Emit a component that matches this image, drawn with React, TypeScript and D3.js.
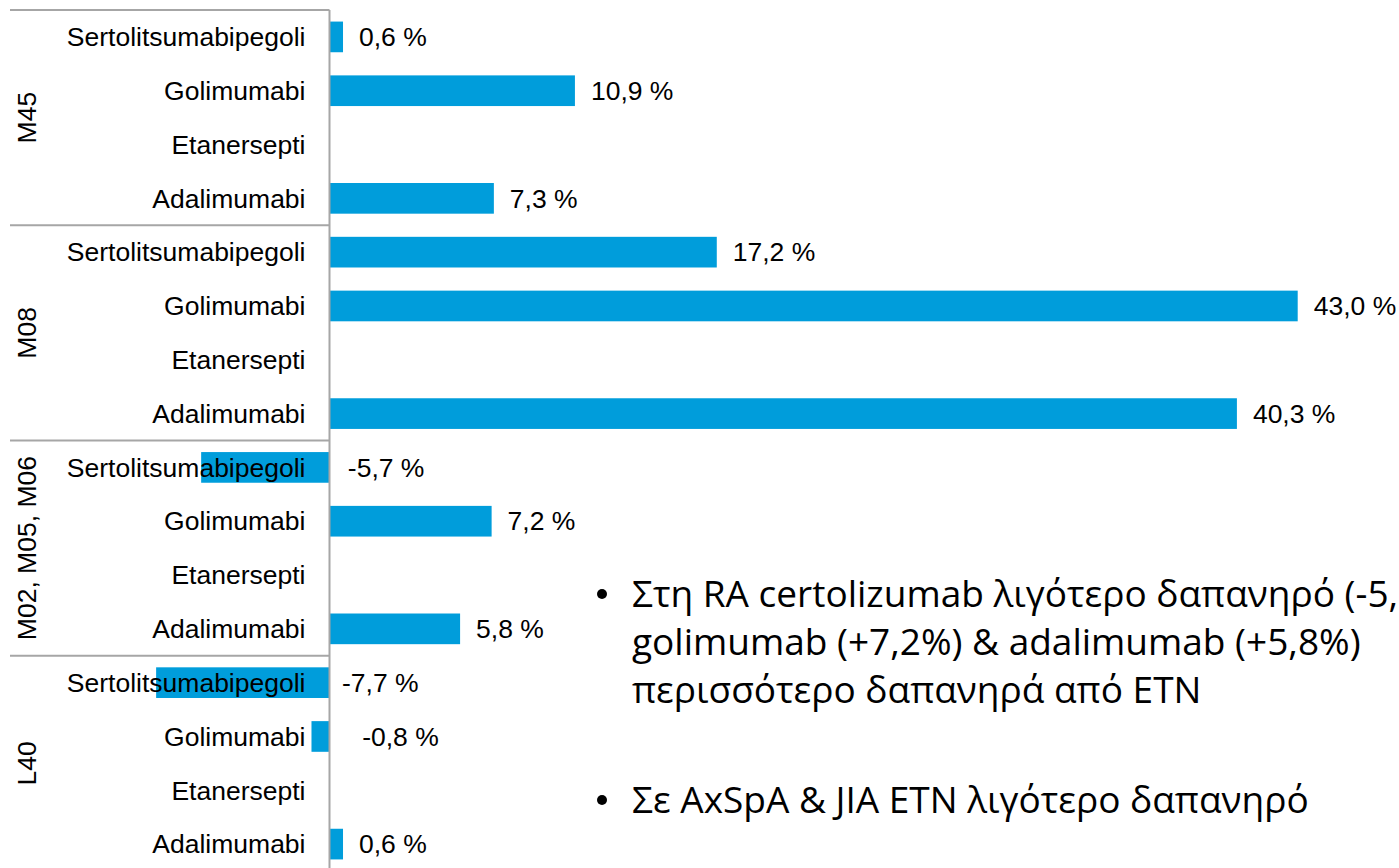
import { useEffect, useRef } from "react";
import * as d3 from "d3";

const groups = ["M45", "M08", "M02, M05, M06", "L40"];
const drugs = ["Sertolitsumabipegoli", "Golimumabi", "Etanersepti", "Adalimumabi"];

// values per group, in the order of `drugs` (null = no bar)
const m45Values = [0.6, 10.9, null, 7.3];
const m08Values = [17.2, 43.0, null, 40.3];
const m02Values = [-5.7, 7.2, null, 5.8];
const l40Values = [-7.7, -0.8, null, 0.6];

const bulletLines = [
  ["Στη RA certolizumab λιγότερο δαπανηρό (-5,7%),", "golimumab (+7,2%) & adalimumab (+5,8%)", "περισσότερο δαπανηρά από ETN"],
  ["Σε AxSpA & JIA ETN λιγότερο δαπανηρό"],
];

type Row = { group: string; drug: string; value: number | null; key: string };

const W = 1399;
const H = 868;

export default function App() {
  const ref = useRef<SVGSVGElement>(null);

  useEffect(() => {
    if (!ref.current) return;
    const valueSets = [m45Values, m08Values, m02Values, l40Values];
    const rows: Row[] = [];
    groups.forEach((g, gi) => {
      drugs.forEach((d, di) => {
        rows.push({ group: g, drug: d, value: valueSets[gi][di], key: `${g}|${d}` });
      });
    });

    const axisX = 329.5;
    const top = 10;
    const bottom = 871;

    const svg = d3.select(ref.current);
    svg.selectAll("*").remove();

    const x = d3.scaleLinear().domain([0, 43]).range([axisX, 1297.7]);
    const y = d3
      .scaleBand<string>()
      .domain(rows.map((r) => r.key))
      .range([top, bottom])
      .paddingInner(0.43)
      .paddingOuter(0.215);
    const step = y.step();
    const groupH = step * drugs.length;

    const font = "'Liberation Sans', Arial, sans-serif";
    const lineColor = "#a6a6a6";

    // bars first, the category labels sit on top of them
    const withValue = rows.filter((r) => r.value !== null);
    svg
      .append("g")
      .selectAll("rect")
      .data(withValue)
      .join("rect")
      .attr("x", (d) => Math.min(x(0), x(d.value as number)))
      .attr("y", (d) => y(d.key) ?? 0)
      .attr("width", (d) => Math.abs(x(d.value as number) - x(0)))
      .attr("height", y.bandwidth())
      .attr("fill", "#009ddb");

    // category labels
    svg
      .append("g")
      .selectAll("text")
      .data(rows)
      .join("text")
      .attr("x", axisX - 24)
      .attr("y", (d) => (y(d.key) ?? 0) + y.bandwidth() / 2)
      .attr("dy", "0.35em")
      .attr("text-anchor", "end")
      .style("font-family", font)
      .style("font-size", "26.5px")
      .style("fill", "#000")
      .text((d) => d.drug);

    // group labels
    svg
      .append("g")
      .selectAll("text")
      .data(groups)
      .join("text")
      .attr("transform", (d, i) => `translate(27,${top + groupH * i + groupH / 2}) rotate(-90)`)
      .attr("dy", "0.35em")
      .attr("text-anchor", "middle")
      .style("font-family", font)
      .style("font-size", "26.5px")
      .style("fill", "#000")
      .text((d) => d);

    // group separators
    svg
      .append("g")
      .selectAll("line")
      .data(d3.range(groups.length + 1))
      .join("line")
      .attr("x1", 10)
      .attr("x2", axisX)
      .attr("y1", (i) => top + groupH * i)
      .attr("y2", (i) => top + groupH * i)
      .attr("stroke", lineColor)
      .attr("stroke-width", 2);

    // vertical axis
    svg
      .append("line")
      .attr("x1", axisX)
      .attr("x2", axisX)
      .attr("y1", top)
      .attr("y2", H)
      .attr("stroke", lineColor)
      .attr("stroke-width", 2);

    // value labels
    const fmt = (v: number) => `${v.toFixed(1).replace(".", ",")} %`;
    svg
      .append("g")
      .selectAll("text")
      .data(withValue)
      .join("text")
      .attr("x", (d) => {
        const v = d.value as number;
        if (v >= 0) return x(v) + 16;
        const len = x(0) - x(v);
        return x(0) + 35 - 0.13 * len;
      })
      .attr("y", (d) => (y(d.key) ?? 0) + y.bandwidth() / 2)
      .attr("dy", "0.35em")
      .style("font-family", font)
      .style("font-size", "26.5px")
      .style("fill", "#000")
      .text((d) => fmt(d.value as number));

    // bullet text (first line runs off the right edge, as on the slide)
    const bulletTop = [607, 813];
    const textFont = "'Open Sans', 'Noto Sans', sans-serif";
    const bullets = svg.append("g");
    bulletLines.forEach((lines, bi) => {
      bullets
        .append("circle")
        .attr("cx", 602)
        .attr("cy", bulletTop[bi] - 13)
        .attr("r", 5)
        .attr("fill", "#000");
      lines.forEach((ln, li) => {
        bullets
          .append("text")
          .attr("x", 632)
          .attr("y", bulletTop[bi] + li * 48)
          .style("font-family", textFont)
          .style("font-size", "37px")
          .style("fill", "#000")
          .text(ln);
      });
    });
  }, []);

  return (
    <svg
      ref={ref}
      width={W}
      height={H}
      style={{ position: "absolute", left: 0, top: 0, background: "#fff" }}
    />
  );
}
